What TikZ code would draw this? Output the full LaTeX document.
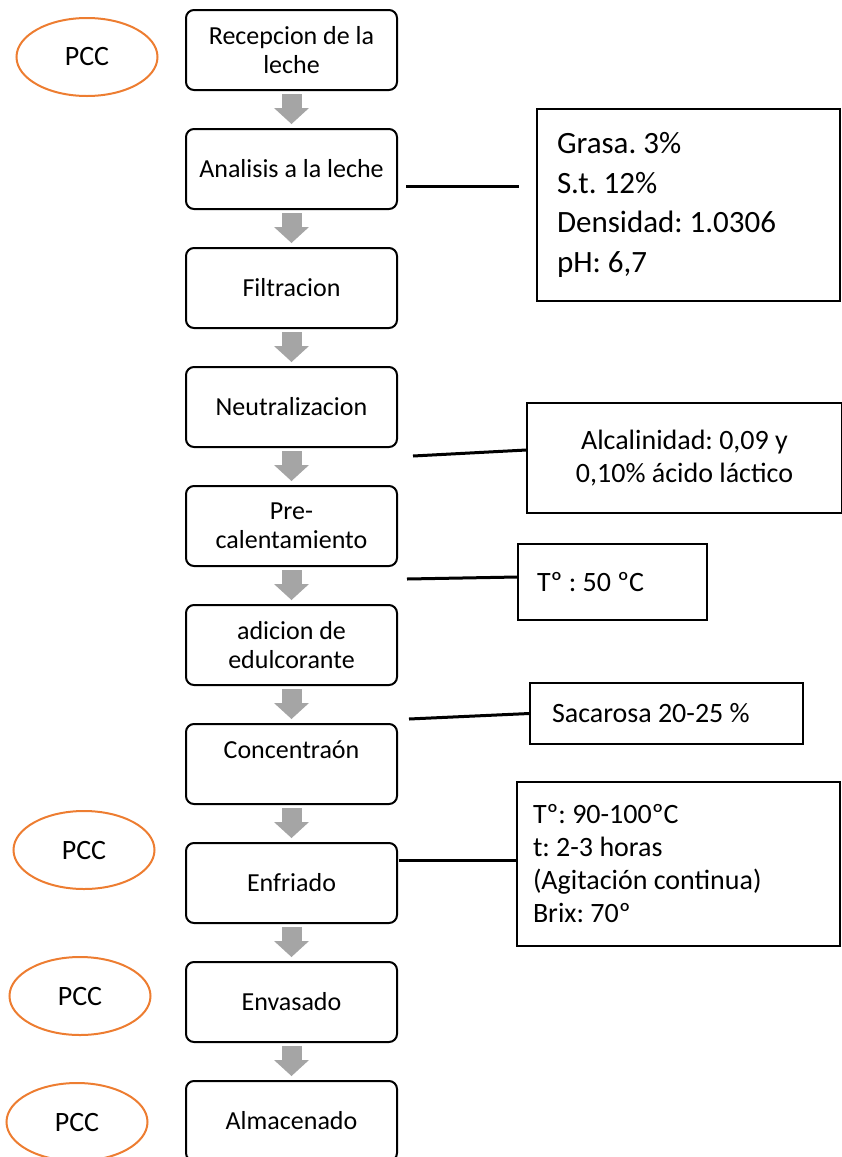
\documentclass[tikz,border=0pt]{standalone}
\usepackage{fontspec}
\setmainfont{Carlito}
\usetikzlibrary{arrows.meta, positioning, shapes.geometric}
\definecolor{pccnaranja}{HTML}{ED7D31}
\definecolor{flechagris}{HTML}{A5A5A5}
\newcommand\espnormal{\frenchspacing\spaceskip=0pt\xspaceskip=0pt\relax}

\begin{document}
\begin{tikzpicture}[x=1pt,y=-1pt,
	paso/.style={draw, line width=2pt, rounded corners=8pt, minimum width=211pt, minimum height=80pt, inner sep=0pt, align=center, font=\fontsize{26}{29}\selectfont},
	pcc/.style={draw=pccnaranja, line width=2pt, ellipse, minimum width=141pt, minimum height=78pt, inner sep=0pt, font=\fontsize{28}{32}\selectfont},
	dato/.style={draw, line width=1.3pt, inner ysep=0pt, font=\fontsize{28}{33}\selectfont},
	flecha/.style={draw=flechagris, line width=20pt, -{Triangle[width=35pt,length=16pt,line width=0pt]}, shorten <=3pt, shorten >=4pt},
	enlace/.style={line width=3pt}]
					\useasboundingbox (0,0) rectangle (842,1157);
					\clip (0,0) rectangle (842,1157);
					% pasos del proceso
					\node[paso] (recepcion) at (291.5,50) {Recepcion de la\\leche};
					\node[paso, below=37pt of recepcion] (analisis) {Analisis a la leche};
					\node[paso, below=37pt of analisis] (filtracion) {Filtracion};
					\node[paso, below=37pt of filtracion] (neutral) {Neutralizacion};
					\node[paso, below=37pt of neutral] (precal) {Pre-\\calentamiento};
					\node[paso, below=37pt of precal] (adicion) {adicion de\\edulcorante};
					\node[paso, below=37pt of adicion] (concent) {Concentraón\\\mbox{}};
					\node[paso, below=37pt of concent] (enfriado) {Enfriado};
					\node[paso, below=37pt of enfriado] (envasado) {Envasado};
					\node[paso, below=37pt of envasado] (almacen) {Almacenado};
					\foreach \a/\b in {recepcion/analisis, analisis/filtracion, filtracion/neutral, neutral/precal, precal/adicion, adicion/concent, concent/enfriado, enfriado/envasado, envasado/almacen}
						\draw[flecha] (\a) -- (\b);
					% puntos criticos
					\node[pcc] (pcc1) at (87,57) {PCC};
					\node[pcc] (pcc2) at (84,850) {PCC};
					\node[pcc] (pcc3) at (80,996) {PCC};
					\node[pcc] (pcc4) at (77,1122) {PCC};
					% datos
					\node[dato, font=\fontsize{31}{39.5}\selectfont, minimum height=192pt, text width=263pt, inner xsep=20pt, align=left] (grasa) at (688.5,205) {\espnormal Grasa. 3\%\\S.t. 12\%\\Densidad: 1.0306\\pH: 6,7};
					\node[dato, minimum width=315pt, minimum height=110pt, align=center] (alcal) at (684.5,458) {\espnormal Alcalinidad: 0,09 y\\0,10\% ácido láctico};
					\node[dato, minimum height=76pt, text width=151pt, inner xsep=19pt, align=left] (temp) at (612.5,582) {\espnormal Tº : 50 ºC};
					\node[dato, minimum height=61pt, text width=229pt, inner xsep=22pt, align=left] (sacarosa) at (666.5,713.5) {\espnormal Sacarosa 20-25 \%};
					\node[dato, minimum height=164pt, text width=291pt, inner xsep=16pt, align=left] (coccion) at (678.5,864) {\espnormal Tº: 90-100ºC\\t: 2-3 horas\\(Agitación continua)\\Brix: 70º};
					\draw[enlace] ([xshift=8pt,yshift=-17pt]analisis.east) to ([xshift=-17pt,yshift=19pt]grasa.west);
					\draw[enlace] ([xshift=15pt,yshift=-8pt]neutral.south east) to ([yshift=8pt]alcal.west);
					\draw[enlace] ([xshift=9pt,yshift=-12pt]precal.south east) to ([yshift=5pt]temp.west);
					\draw[enlace] ([xshift=11pt,yshift=-33pt]adicion.south east) to (sacarosa.west);
					\draw[enlace] ([xshift=1pt,yshift=23pt]enfriado.east) to ([yshift=4pt]coccion.west);
				\end{tikzpicture}
\end{document}
